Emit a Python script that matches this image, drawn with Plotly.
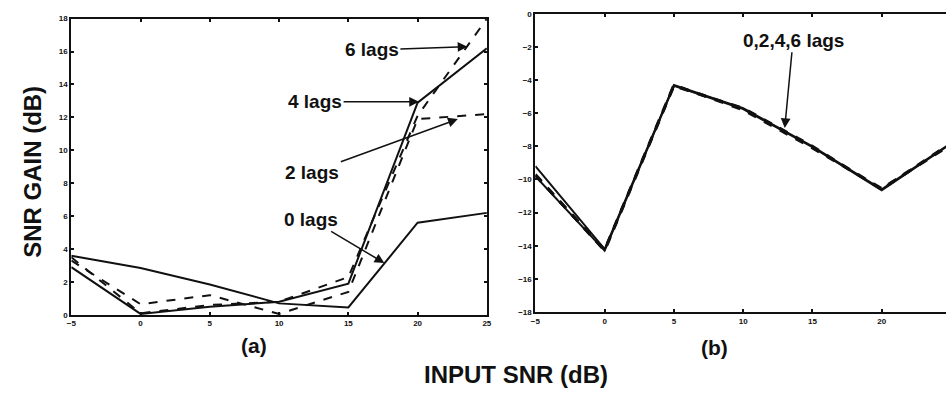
import plotly.graph_objects as go

# ---- data ----
snr_in = [-5, 0, 5, 10, 15, 20, 25]

# panel (a): SNR gain (dB)
gain_a_0lags = [3.6, 2.85, 1.85, 0.7, 0.45, 5.6, 6.2]
gain_a_2lags = [3.3, 0.65, 1.2, 0.06, 1.4, 11.9, 12.2]
gain_a_4lags = [2.9, 0.06, 0.5, 0.8, 1.9, 12.9, 16.2]
gain_a_6lags = [3.5, 0.1, 0.6, 0.8, 2.3, 12.1, 18.0]

# panel (b): SNR gain (dB)
gain_b_0lags = [-9.2, -14.2, -4.3, -5.7, -8.0, -10.6, -7.8]
gain_b_2lags = [-9.8, -14.3, -4.35, -5.75, -8.05, -10.65, -7.85]
gain_b_4lags = [-9.75, -14.25, -4.3, -5.8, -8.1, -10.55, -7.9]
gain_b_6lags = [-9.7, -14.3, -4.35, -5.7, -8.0, -10.6, -7.8]

ticks_x = [-5, 0, 5, 10, 15, 20, 25]
ticks_ya = [0, 2, 4, 6, 8, 10, 12, 14, 16, 18]
ticks_yb = [0, -2, -4, -6, -8, -10, -12, -14, -16, -18]

BLACK = "#111111"
FONT = "Liberation Sans"

fig = go.Figure()

def add(x, y, dash, xa, ya, w=2):
    fig.add_trace(go.Scatter(x=x, y=y, mode="lines", xaxis=xa, yaxis=ya,
                             line=dict(color=BLACK, width=w, dash=dash),
                             showlegend=False, hoverinfo="skip"))

add(snr_in, gain_a_0lags, "solid", "x", "y")
add(snr_in, gain_a_2lags, "dash", "x", "y")
add(snr_in, gain_a_4lags, "solid", "x", "y")
add(snr_in, gain_a_6lags, "dash", "x", "y")

add(snr_in, gain_b_0lags, "solid", "x2", "y2", 2)
add(snr_in, gain_b_2lags, "solid", "x2", "y2", 2)
add(snr_in, gain_b_4lags, "dash", "x2", "y2", 3)
add(snr_in, gain_b_6lags, "dash", "x2", "y2", 3)

H = 403
W = 951
tickfont = dict(family=FONT, size=8, color=BLACK, weight="bold")
axcommon = dict(showgrid=False, zeroline=False, showline=True, linecolor=BLACK,
                linewidth=2, ticks="inside", ticklen=3, tickwidth=1.5,
                tickcolor=BLACK, tickfont=tickfont)

fig.update_layout(
    width=W, height=H, margin=dict(l=0, r=0, t=0, b=0),
    plot_bgcolor="white", paper_bgcolor="white",
    xaxis=dict(domain=[67 / W, 487 / W], range=[-5, 25], tickvals=ticks_x,
               mirror="ticks", anchor="y", **axcommon),
    yaxis=dict(domain=[1 - 318 / H, 1 - 15 / H], range=[0, 18], tickvals=ticks_ya,
               mirror="ticks", anchor="x", **axcommon),
    xaxis2=dict(domain=[536 / W, 1.0], range=[-5, 24.64], tickvals=ticks_x[:-1],
                mirror="ticks", anchor="y2", **axcommon),
    yaxis2=dict(domain=[1 - 315 / H, 1 - 10 / H], range=[-18, 0], tickvals=ticks_yb,
                mirror=False, anchor="x2", **axcommon),
)

labfont = dict(family=FONT, size=19, color=BLACK, weight="bold")

def arrow(text, tx, ty, hx, hy, xr="x", yr="y"):
    fig.add_annotation(text=text, x=hx, y=hy, ax=tx, ay=ty, xref=xr, yref=yr,
                       axref=xr, ayref=yr, showarrow=True, arrowhead=2,
                       arrowsize=1.3, arrowwidth=1.5, arrowcolor=BLACK,
                       font=labfont)

arrow("6 lags", 16.7, 16.1, 23.6, 16.3)
arrow("4 lags", 12.6, 12.95, 20.1, 12.95)
arrow("2 lags", 12.4, 8.67, 22.9, 11.9)
arrow("0 lags", 12.3, 5.8, 17.6, 3.15)
arrow("0,2,4,6 lags", 13.6, -1.6, 13.0, -6.9, "x2", "y2")

bigfont = dict(family=FONT, size=24, color=BLACK, weight="bold")
midfont = dict(family=FONT, size=21, color=BLACK, weight="bold")

def label(text, px, py, font, angle=0):
    fig.add_annotation(text=text, x=px / W, y=1 - py / H, xref="paper", yref="paper",
                       xanchor="center", yanchor="middle", showarrow=False,
                       textangle=angle, font=font)

label("(a)", 252, 349, midfont)
label("(b)", 717, 351, midfont)
label("INPUT SNR (dB)", 516, 379, bigfont)
label("SNR GAIN (dB)", 27, 172, bigfont, -90)

fig.write_html("out.html")
